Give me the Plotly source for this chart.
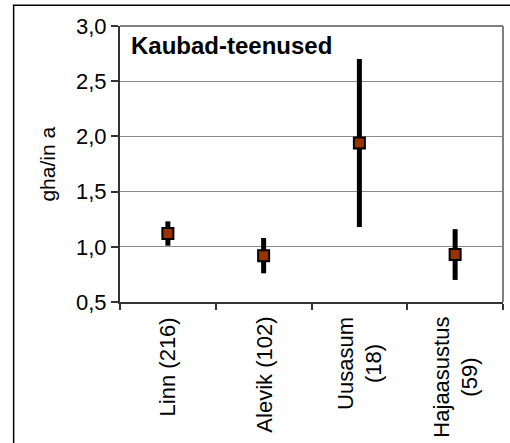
import plotly.graph_objects as go

# Data: mean footprint per settlement type, with error bar half-widths
categories = ["Linn (216)", "Alevik (102)", "Uusasum<br>(18)", "Hajaasustus<br>(59)"]
means = [1.12, 0.92, 1.94, 0.93]
errors = [0.11, 0.16, 0.76, 0.23]
y_ticks = [0.5, 1.0, 1.5, 2.0, 2.5, 3.0]
chart_title = "Kaubad-teenused"
y_title = "gha/in a"

W, H = 510, 443
ml, mr, mt, mb = 119.5, 7, 25.7, 141.3
pw, ph = W - ml - mr, H - mt - mb

FONT = "Liberation Sans, Arial, sans-serif"
AXIS = "#333333"
GRID = "#8c8c8c"

xs = list(range(len(categories)))

fig = go.Figure()
fig.add_trace(go.Scatter(
    x=xs, y=means, mode="markers",
    marker=dict(symbol="square", size=11, color="#993300",
                line=dict(color="black", width=2)),
    error_y=dict(type="data", array=errors, visible=True,
                 color="black", thickness=5, width=0),
    showlegend=False, cliponaxis=False,
))

def px_to_paper_x(px):
    return (px - ml) / pw

def px_to_paper_y(py):
    return (H - mb - py) / ph

shapes = [
    # outer frame of the chart object (continues past the page edge)
    dict(type="rect", xref="paper", yref="paper",
         x0=px_to_paper_x(13), x1=px_to_paper_x(W + 20),
         y0=px_to_paper_y(H + 20), y1=px_to_paper_y(5),
         line=dict(color="black", width=1.5), fillcolor="rgba(0,0,0,0)"),
    # gray top and right edges of the plot area
    dict(type="line", xref="paper", yref="paper", x0=0, x1=1, y0=1, y1=1,
         line=dict(color="#808080", width=2)),
    dict(type="line", xref="paper", yref="paper", x0=1, x1=1, y0=0, y1=1,
         line=dict(color="#808080", width=2)),
]

annotations = [
    dict(text="<b>%s</b>" % chart_title, xref="paper", yref="paper",
         x=px_to_paper_x(129), y=px_to_paper_y(45), xanchor="left", yanchor="middle",
         showarrow=False, font=dict(family=FONT, size=24, color="black")),
    dict(text=y_title, xref="paper", yref="paper",
         x=px_to_paper_x(46), y=0.5, xanchor="center", yanchor="middle",
         textangle=-90, showarrow=False,
         font=dict(family=FONT, size=21, color="black")),
]
for i, c in enumerate(categories):
    annotations.append(dict(
        text=c, x=i, xref="x", y=0, yref="paper",
        xanchor="center", yanchor="top", yshift=-13,
        textangle=-90, align="center", showarrow=False,
        font=dict(family=FONT, size=22, color="black")))

fig.update_layout(
    width=W, height=H,
    margin=dict(l=ml, r=mr, t=mt, b=mb, pad=0),
    paper_bgcolor="white", plot_bgcolor="white",
    separators=", ",
    shapes=shapes, annotations=annotations,
    xaxis=dict(range=[-0.5, len(categories) - 0.5],
               tickvals=[i - 0.5 for i in range(len(categories) + 1)],
               showticklabels=False, ticks="outside", ticklen=6,
               tickwidth=1.5, tickcolor=AXIS,
               showline=True, linecolor=AXIS, linewidth=2,
               showgrid=False, zeroline=False, fixedrange=True),
    yaxis=dict(range=[y_ticks[0], y_ticks[-1]], tickvals=y_ticks,
               tickformat=".1f", ticks="outside", ticklen=7,
               tickwidth=1.5, tickcolor=AXIS,
               tickfont=dict(family=FONT, size=22, color="black"),
               showline=True, linecolor=AXIS, linewidth=2,
               showgrid=True, gridcolor=GRID, gridwidth=1,
               zeroline=False, fixedrange=True),
)

fig.write_html("out.html")
